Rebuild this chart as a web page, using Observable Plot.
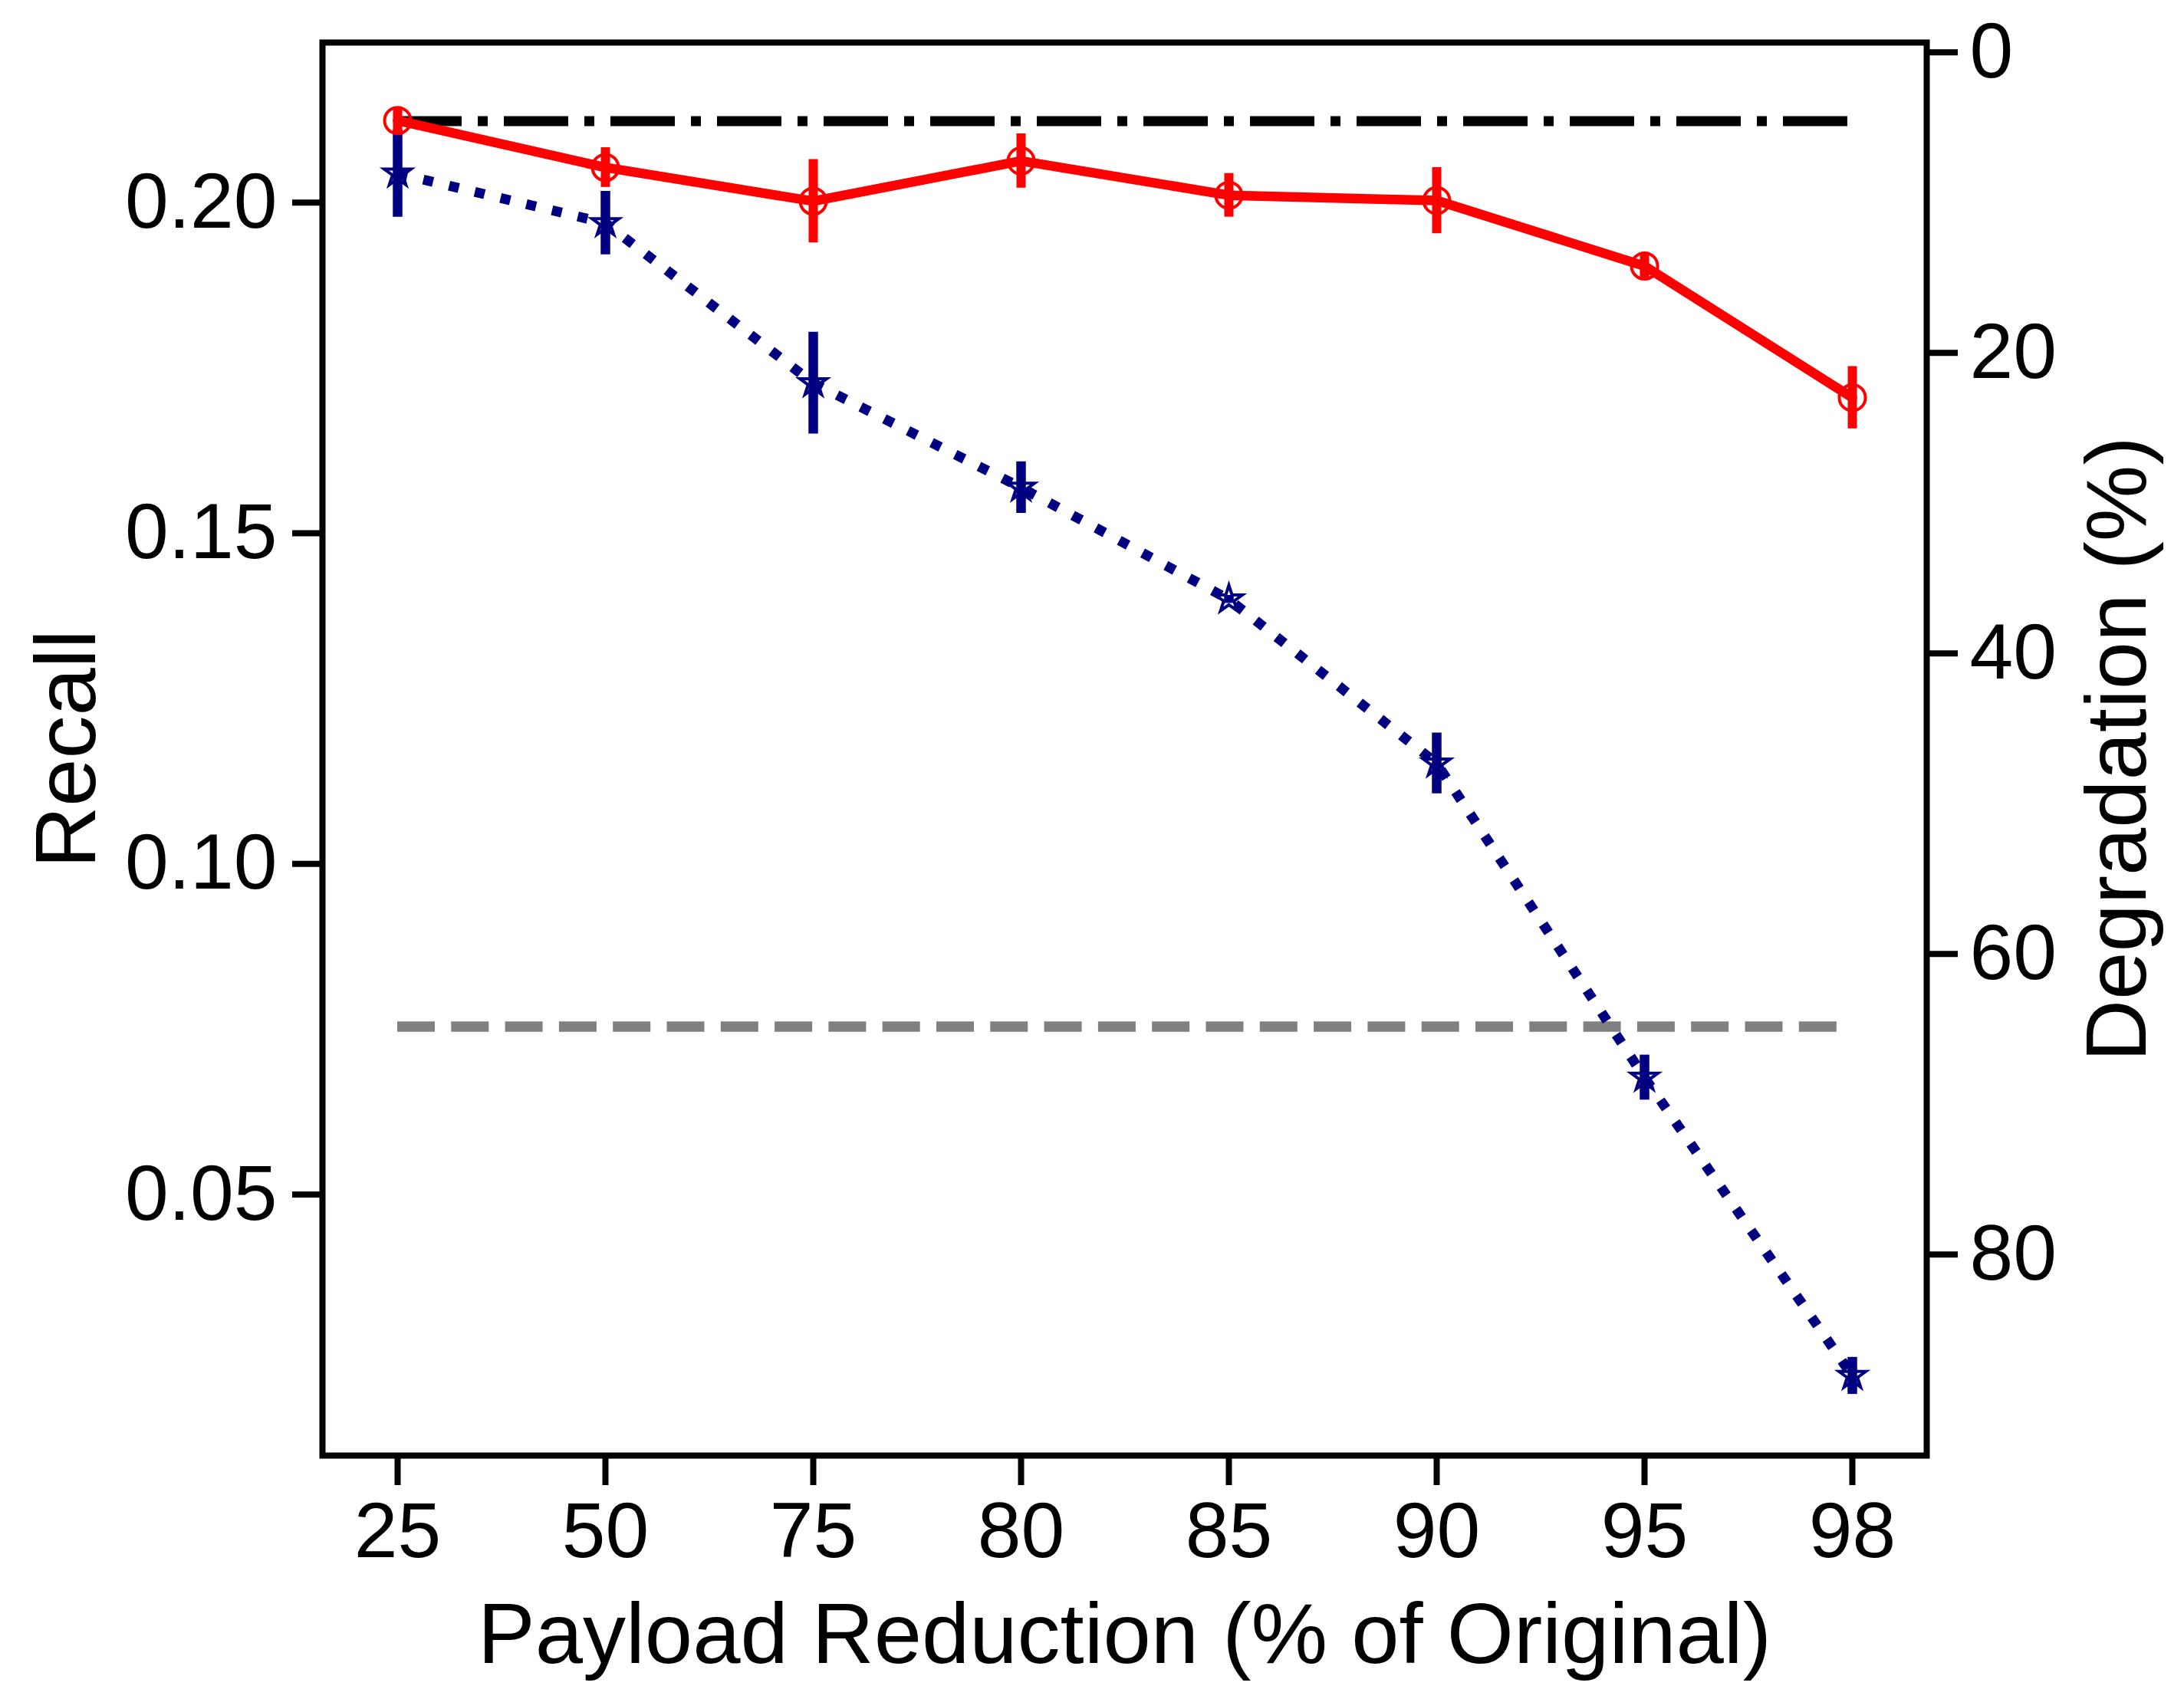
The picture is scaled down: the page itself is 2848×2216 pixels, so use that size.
<!DOCTYPE html>
<html>
<head>
<meta charset="utf-8">
<script src="https://cdn.jsdelivr.net/npm/d3@7"></script>
<script src="https://cdn.jsdelivr.net/npm/@observablehq/plot@0.6"></script>
<style>
  html, body { margin: 0; padding: 0; background: white; }
</style>
</head>
<body>
<script>
// ---- data ----
const xLabels = ["25", "50", "75", "80", "85", "90", "95", "98"];
const redRecall = [0.2124, 0.2053, 0.2002, 0.2063, 0.2011, 0.2003, 0.1904, 0.1705];
const redErr    = [0.0019, 0.0030, 0.0063, 0.0041, 0.0033, 0.0050, 0.0019, 0.0047];
const blueRecall = [0.2044, 0.1969, 0.1727, 0.1569, 0.1400, 0.1152, 0.0677, 0.0226];
const blueErr    = [0.0066, 0.0048, 0.0077, 0.0039, 0.0006, 0.0046, 0.0034, 0.0028];
const upperRef = 0.2123;   // dash-dot black reference
const lowerRef = 0.0754;   // dashed gray reference
const recallTicks = [0.05, 0.10, 0.15, 0.20];
const degTicks = [0, 20, 40, 60, 80];
const recallDomain = [0.01054, 0.22419];
const degDomain = [-0.653, 93.38]; // top -> bottom

const red = xLabels.map((x, i) => ({x, y: redRecall[i], e: redErr[i]}));
const blue = xLabels.map((x, i) => ({x, y: blueRecall[i], e: blueErr[i]}));
const firstX = xLabels[0], lastX = xLabels[xLabels.length - 1];

// degradation (right axis) -> recall position
const degToRecall = d3.scaleLinear().domain(degDomain).range([recallDomain[1], recallDomain[0]]);

const W = 2848, H = 2216;
const mL = 420, mR = W - 2512, mT = 55, mB = H - 1898;

const chart = Plot.plot({
  width: W,
  height: H,
  marginLeft: mL,
  marginRight: mR,
  marginTop: mT,
  marginBottom: mB,
  style: {fontFamily: "'Liberation Sans', Arial, sans-serif", background: "white", color: "black", overflow: "visible"},
  x: {type: "point", domain: xLabels, padding: 0.35},
  y: {domain: recallDomain},
  marks: [
    Plot.ruleY([lowerRef], {x1: () => firstX, x2: () => lastX, y: d => d, stroke: "#808080", strokeWidth: 13.3, strokeDasharray: "49,21.3"}),
    Plot.ruleY([upperRef], {x1: () => firstX, x2: () => lastX, y: d => d, stroke: "black", strokeWidth: 13, strokeDasharray: "84,21,13,21"}),
    // blue series
    Plot.ruleX(blue, {x: "x", y1: d => d.y - d.e, y2: d => d.y + d.e, stroke: "#000080", strokeWidth: 12.5}),
    Plot.line(blue, {x: "x", y: "y", stroke: "#000080", strokeWidth: 13, strokeDasharray: "13,21.5", strokeLinecap: "butt"}),
    Plot.dot(blue, {x: "x", y: "y", symbol: "star", r: 11, fill: "none", stroke: "#000080", strokeWidth: 4}),
    // red series
    Plot.ruleX(red, {x: "x", y1: d => d.y - d.e, y2: d => d.y + d.e, stroke: "red", strokeWidth: 12}),
    Plot.line(red, {x: "x", y: "y", stroke: "red", strokeWidth: 12.5}),
    Plot.dot(red, {x: "x", y: "y", r: 17, fill: "none", stroke: "red", strokeWidth: 4}),
    Plot.frame({stroke: "black", strokeWidth: 8}),
    Plot.axisX({anchor: "bottom", tickSize: 39, tickPadding: 21, fontSize: 102, strokeWidth: 8, label: null}),
    Plot.axisY(recallTicks, {anchor: "left", tickSize: 39, tickPadding: 20, fontSize: 102, strokeWidth: 8, tickFormat: d3.format(".2f"), label: null}),
    Plot.axisY(degTicks.map(degToRecall), {anchor: "right", tickSize: 40, tickPadding: 16, fontSize: 102, strokeWidth: 8,
      tickFormat: d => String(Math.round(degToRecall.invert(d))), label: null}),
    Plot.text(["Recall"], {frameAnchor: "left", dx: 123.5 - mL, rotate: -90, lineAnchor: "bottom", textAnchor: "middle", fontSize: 112}),
    Plot.text(["Degradation (%)"], {frameAnchor: "right", dx: 2797 - (W - mR), rotate: -90, lineAnchor: "bottom", textAnchor: "middle", fontSize: 112}),
    Plot.text(["Payload Reduction (% of Original)"], {frameAnchor: "bottom", dy: 2168 - (H - mB), lineAnchor: "bottom", textAnchor: "middle", fontSize: 112})
  ]
});
document.body.appendChild(chart);
</script>
</body>
</html>
